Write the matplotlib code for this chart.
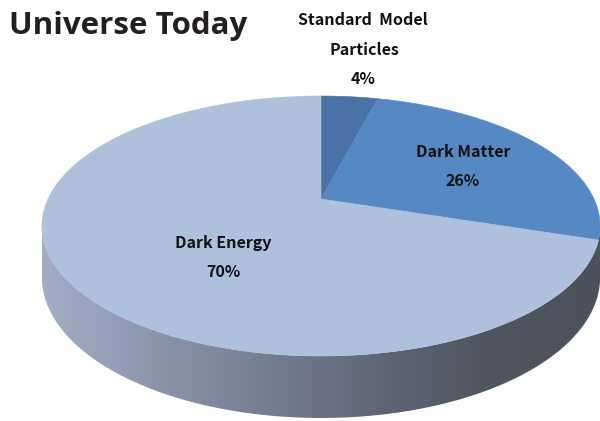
import numpy as np
import matplotlib
matplotlib.use("Agg")
import matplotlib.pyplot as plt
from matplotlib.patches import Polygon
from matplotlib.colors import LinearSegmentedColormap

# Composition of the universe (percent)
labels = ["Standard  Model\nParticles", "Dark Matter", "Dark Energy"]
shares = [4, 26, 70]
top_colors = ["#4a72a6", "#5689c4", "#afc0dc"]

# Pie geometry in pixel units (tilted disk with a little perspective)
cx, cy = 321, 199
sx, sy = 273, 124.4
k = 0.2077          # perspective strength
depth = 49.1        # thickness of the disk


def project(theta_deg, r=1.0, drop=0.0):
    # theta is measured clockwise from the top of the pie
    t = np.radians(theta_deg)
    X = r * np.sin(t)
    Z = r * np.cos(t)
    w = 1 + k * Z
    return cx + sx * X / w, cy - sy * Z / w + drop / w


fig = plt.figure(figsize=(6, 4.21), dpi=100)
ax = fig.add_axes([0, 0, 1, 1])

# Side wall: front half of the rim, from one silhouette edge to the other
edge = 90 + np.degrees(np.arcsin(k))
th = np.linspace(edge, 360 - edge, 300)
tx, ty = project(th)
bx, by = project(th[::-1], drop=depth)
side = Polygon(np.column_stack([np.r_[tx, bx], np.r_[ty, by]]),
               closed=True, facecolor="none", edgecolor="none")
ax.add_patch(side)

side_cmap = LinearSegmentedColormap.from_list("side", [
    (0.0, "#a3aec6"), (0.1, "#98a2ba"), (0.28, "#828ba0"), (0.46, "#6f778a"),
    (0.64, "#5c6270"), (0.8, "#50555f"), (1.0, "#4c515b")])
grad = np.linspace(0, 1, 512).reshape(1, -1)
im = ax.imshow(grad, extent=[tx.min(), tx.max(), by.max(), ty.min()],
               cmap=side_cmap, aspect="auto", interpolation="bilinear")
im.set_clip_path(side)

# Top face wedges, starting at 12 o'clock and running clockwise
start = 0.0
total = sum(shares)
for value, color in zip(shares, top_colors):
    end = start + 360.0 * value / total
    arc = np.linspace(start, end, max(int(end - start) * 2, 4))
    ax_, ay_ = project(arc)
    pts = np.column_stack([np.r_[cx, ax_], np.r_[cy, ay_]])
    ax.add_patch(Polygon(pts, closed=True, facecolor=color, edgecolor=color, lw=0.4))
    start = end

# Data labels
lab_font = dict(family=["Noto Sans CJK KR", "DejaVu Sans"], fontweight="bold",
                fontsize=11.5, color="#111111", ha="center", va="center")
ax.text(363, 20, "Standard  Model", **lab_font)
ax.text(364, 50, "Particles", **lab_font)
ax.text(363, 79, f"{shares[0]}%", **lab_font)
ax.text(463, 152, labels[1], **lab_font)
ax.text(463, 181, f"{shares[1]}%", **lab_font)
ax.text(223, 243, labels[2], **lab_font)
ax.text(223, 272, f"{shares[2]}%", **lab_font)

# Header
ax.text(9, 34, "Universe Today", family="Open Sans", fontweight="bold",
        fontsize=22.5, color="#231f20", ha="left", va="baseline")

ax.set_xlim(0, 600)
ax.set_ylim(421, 0)
ax.axis("off")
fig.savefig("out.png", dpi=100)
